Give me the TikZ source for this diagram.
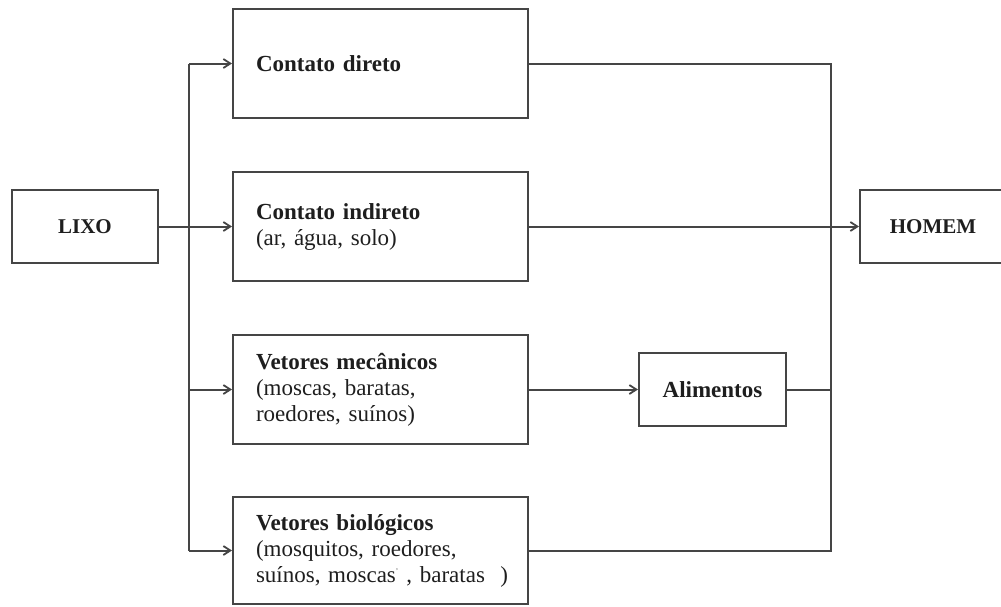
\documentclass[tikz,border=0pt]{standalone}
\usepackage{fontspec}
\setmainfont[WordSpace=0.8]{Liberation Serif}
\usetikzlibrary{arrows.meta}
\definecolor{linec}{HTML}{454545}
\definecolor{textc}{HTML}{1E1E1E}
\tikzset{
  wbox/.style={draw=linec, line width=2pt, text=textc, inner sep=0pt,
    font=\fontsize{23}{26}\selectfont},
  bigbox/.style={wbox, minimum width=295pt, minimum height=109pt,
    text width=249pt, inner xsep=23pt, align=left},
  conn/.style={draw=linec, line width=2pt},
  arr/.style={conn, -{Straight Barb[length=7pt,width=9pt,line width=1.8pt]}}
}
\begin{document}
\begin{tikzpicture}[x=1pt,y=-1pt]
\useasboundingbox (0,0) rectangle (1001,606);
\node[wbox, minimum width=146pt, minimum height=73pt, font=\fontsize{21}{24}\selectfont\bfseries] (lixo) at (85,226.5) {LIXO};
\node[bigbox] (dir) at (380.5,63.5) {\textbf{Contato direto}};
\node[bigbox] (ind) at (380.5,226.5) {\textbf{Contato indireto}\\(ar, água, solo)};
\node[bigbox, minimum height=109pt] (mec) at (380.5,389.5) {\textbf{Vetores mecânicos}\\(moscas, baratas,\\roedores, suínos)};
\node[bigbox, minimum height=107pt] (bio) at (380.5,550.5) {\textbf{Vetores biológicos}\\(mosquitos, roedores,\\suínos,~moscas\textsuperscript{\scriptsize’}~,~baratas~~)};
\node[wbox, minimum width=147pt, minimum height=73pt, font=\fontsize{23}{26}\selectfont\bfseries] (ali) at (712.5,389.5) {Alimentos};
\node[wbox, minimum width=160pt, minimum height=73pt, font=\fontsize{21}{24}\selectfont\bfseries] (hom) at (940,226.5) {HOMEM\hspace*{14pt}};
\coordinate (busL) at (189,0);
\coordinate (busR) at (831,0);
% left bus
\draw[conn] (busL |- dir.west) -- (busL |- bio.west);
\draw[arr] (lixo.east) -- (ind.west);
\draw[arr] (busL |- dir.west) -- (dir.west);
\draw[arr] (busL |- mec.west) -- (mec.west);
\draw[arr] (busL |- bio.west) -- (bio.west);
% right side
\draw[conn] (dir.east) -- (busR |- dir.east) -- (busR |- bio.east) -- (bio.east);
\draw[conn] (ali.east) -- (busR |- ali.east);
\draw[arr] (mec.east) -- (ali.west);
\draw[arr] (ind.east) -- (hom.west);
\end{tikzpicture}
\end{document}
